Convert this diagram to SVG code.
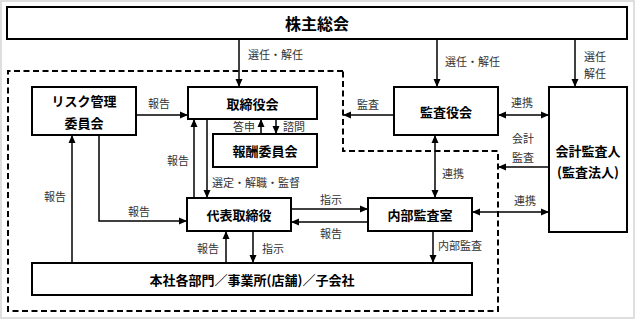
<svg xmlns="http://www.w3.org/2000/svg" width="635" height="319" viewBox="0 0 635 319">
<style>
.box{fill:#fff;stroke:#000;stroke-width:2}
.nt{font-family:"Noto Sans CJK JP","Noto Sans CJK SC",sans-serif;font-weight:bold;font-size:13px;fill:#000;text-anchor:middle;dominant-baseline:central}
.lt{font-family:"Noto Sans CJK JP","Noto Sans CJK SC",sans-serif;font-size:11px;fill:#333;dominant-baseline:central}
.ln{fill:none;stroke:#000;stroke-width:1.5}
.ar{marker-end:url(#ah)}
.ar2{marker-end:url(#ah);marker-start:url(#ah)}
</style>
<defs>
<marker id="ah" markerUnits="userSpaceOnUse" markerWidth="9" markerHeight="8" refX="8" refY="4" orient="auto-start-reverse" viewBox="0 0 9 8">
<path d="M0,0.5 L8,4 L0,7.5 z" fill="#000"/>
</marker>
</defs>
<rect x="0" y="0" width="635" height="319" fill="#fff"/>
<rect x="1" y="1" width="633" height="317" fill="none" stroke="#d4d4d4" stroke-width="1.5"/>
<path d="M343,71 L8,71 L8,311 L498,311 L498,151 L343,151 Z" fill="none" stroke="#000" stroke-width="2" stroke-dasharray="6,3.5"/>

<g id="connectors">
<line class="ln ar" x1="239" y1="39" x2="239" y2="87"/>
<line class="ln ar" x1="437" y1="39" x2="437" y2="87"/>
<line class="ln ar" x1="575" y1="39" x2="575" y2="87"/>
<line class="ln ar" x1="136" y1="115" x2="188" y2="115"/>
<line class="ln ar" x1="394" y1="115" x2="343" y2="115"/>
<line class="ln ar2" x1="498" y1="115" x2="549" y2="115"/>
<line class="ln ar" x1="549" y1="167" x2="498" y2="167"/>
<line class="ln ar2" x1="472" y1="212" x2="549" y2="212"/>
<line class="ln ar2" x1="435" y1="135" x2="435" y2="198"/>
<line class="ln ar" x1="291" y1="209" x2="368" y2="209"/>
<line class="ln ar" x1="368" y1="222" x2="291" y2="222"/>
<line class="ln ar" x1="433" y1="231" x2="433" y2="263"/>
<line class="ln ar" x1="253" y1="231" x2="253" y2="263"/>
<line class="ln ar" x1="226" y1="263" x2="226" y2="231"/>
<polyline class="ln ar" points="99,135 99,221 187,221"/>
<line class="ln ar" x1="72" y1="263" x2="72" y2="135"/>
<line class="ln ar" x1="194" y1="198" x2="194" y2="119"/>
<line class="ln ar" x1="207" y1="119" x2="207" y2="198"/>
<line class="ln ar" x1="261" y1="134" x2="261" y2="119"/>
<line class="ln ar" x1="276" y1="119" x2="276" y2="134"/>
</g>

<g id="labels">
<text class="lt" x="248" y="54">選任・解任</text>
<text class="lt" x="445" y="61">選任・解任</text>
<text class="lt" x="584" y="56">選任</text>
<text class="lt" x="584" y="73">解任</text>
<text class="lt" x="148" y="103">報告</text>
<text class="lt" x="357" y="104">監査</text>
<text class="lt" x="511" y="102">連携</text>
<text class="lt" x="512" y="138">会計</text>
<text class="lt" x="512" y="157">監査</text>
<text class="lt" x="514" y="200">連携</text>
<text class="lt" x="442" y="173">連携</text>
<text class="lt" x="320" y="199">指示</text>
<text class="lt" x="320" y="233">報告</text>
<text class="lt" x="438" y="245">内部監査</text>
<text class="lt" x="262" y="248">指示</text>
<text class="lt" x="197" y="248">報告</text>
<text class="lt" x="128" y="211">報告</text>
<text class="lt" x="44" y="196">報告</text>
<text class="lt" x="167" y="160">報告</text>
<text class="lt" x="212" y="182">選定・解職・監督</text>
<text class="lt" x="233" y="126">答申</text>
<text class="lt" x="283" y="126">諮問</text>
</g>

<g id="n-shareholders">
<rect class="box" x="7" y="7" width="620" height="32"/>
<text class="nt" x="317" y="23" style="font-size:16px">株主総会</text>
</g>
<g id="n-risk">
<rect class="box" x="32" y="87" width="104" height="48"/>
<text class="nt" x="84" y="100">リスク管理</text>
<text class="nt" x="84" y="122">委員会</text>
</g>
<g id="n-board">
<rect class="box" x="188" y="87" width="129" height="32"/>
<text class="nt" x="252.5" y="103">取締役会</text>
</g>
<g id="n-comp">
<rect class="box" x="213" y="134" width="104" height="33"/>
<text class="nt" x="265" y="150.5">報酬委員会</text>
</g>
<g id="n-ceo">
<rect class="box" x="187" y="198" width="104" height="33"/>
<text class="nt" x="239" y="214.5">代表取締役</text>
</g>
<g id="n-depts">
<rect class="box" x="32" y="263" width="440" height="32"/>
<text class="nt" x="252" y="279">本社各部門／事業所(店舗)／子会社</text>
</g>
<g id="n-auditboard">
<rect class="box" x="394" y="87" width="104" height="48"/>
<text class="nt" x="446" y="111">監査役会</text>
</g>
<g id="n-internal">
<rect class="box" x="368" y="198" width="104" height="33"/>
<text class="nt" x="420" y="214.5">内部監査室</text>
</g>
<g id="n-accountant">
<rect class="box" x="549" y="87" width="78" height="145"/>
<text class="nt" x="588" y="150">会計監査人</text>
<text class="nt" x="588" y="171">(監査法人)</text>
</g>
</svg>
